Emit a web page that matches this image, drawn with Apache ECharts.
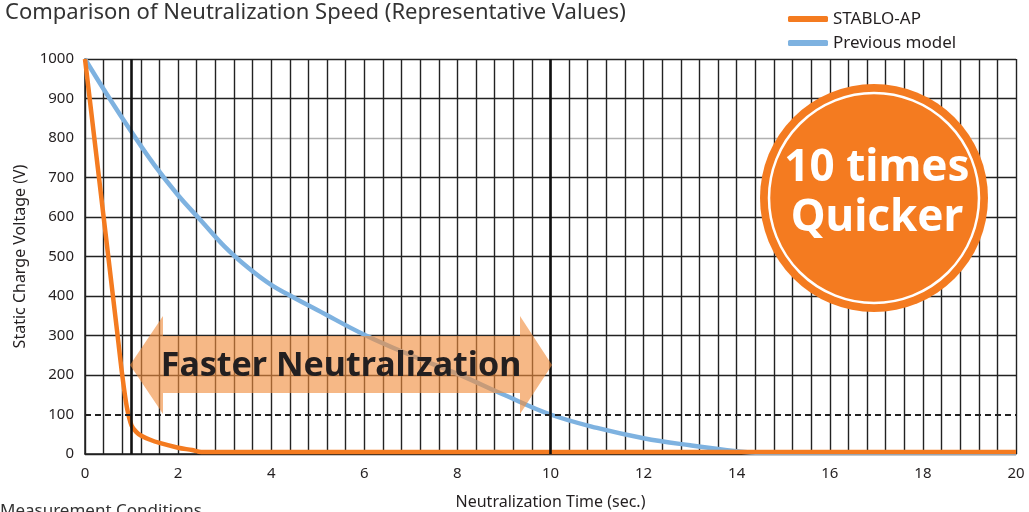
<!DOCTYPE html>
<html>
<head>
    <meta charset="utf-8">
    <title>Neutralization Speed</title>
    <script src="https://cdn.jsdelivr.net/npm/echarts@6/dist/echarts.min.js"></script>
    <style>
        html, body { margin: 0; padding: 0; background: #fff; }
        #chart { width: 1029px; height: 512px; }
    </style>
</head>
<body>
<div id="chart"></div>
<script type="text/javascript">
    // STABLO-AP (orange)
    var stabloTime = [0, 0.7, 0.8, 0.9, 1.0, 1.1, 1.2, 1.4, 1.6, 2.0, 2.3, 2.5, 3, 20];
    var stabloVolt = [1000, 300, 200, 118, 72, 56, 47, 36, 28, 16, 10, 5, 5, 5];
    // Previous model (blue)
    var prevTime = [0, 0.5, 1, 1.5, 2, 2.5, 3, 3.5, 4, 4.5, 5, 6, 7, 8, 9, 10, 11, 12, 13, 14, 14.5, 20];
    var prevVolt = [1000, 905, 815, 730, 655, 590, 525, 472, 428, 395, 364, 302, 250, 203, 150, 100, 66, 40, 22, 7, 3, 3];
    // reference lines
    var thickLinesX = [1, 10];
    var dashedLineY = 100;

    var seriesNames = ['STABLO-AP', 'Previous model'];
    var gridColor = '#222';
    var textColor = '#231f20';
    var fontName = 'Noto Sans';

    function pairs(xs, ys) {
        return xs.map(function (x, i) { return [x, ys[i]]; });
    }

    // y split line colours (0,100,...,1000): 100 is drawn dashed, 800 appears light grey
    var ySplitColors = [];
    for (var i = 0; i <= 10; i++) {
        if (i === 1) ySplitColors.push('rgba(0,0,0,0)');
        else if (i === 8) ySplitColors.push('#b0b0b0');
        else ySplitColors.push(gridColor);
    }

    var dom = document.getElementById('chart');
    var myChart = echarts.init(dom, null, { renderer: 'canvas' });

    var option = {
        backgroundColor: '#fff',
        animation: false,
        title: {
            text: 'Comparison of Neutralization Speed (Representative Values)',
            left: 0,
            top: -3,
            textStyle: { fontFamily: fontName, fontSize: 22, fontWeight: 'normal', color: '#333' }
        },
        legend: {
            data: seriesNames,
            orient: 'vertical',
            left: 783,
            top: 4,
            itemGap: 4,
            itemWidth: 40,
            itemHeight: 6,
            icon: 'roundRect',
            textStyle: { fontFamily: fontName, fontSize: 17, color: textColor, lineHeight: 20 }
        },
        grid: { left: 85, right: 13, top: 59, bottom: 58, outerBoundsMode: 'none' },
        xAxis: {
            type: 'value',
            min: 0,
            max: 20,
            interval: 2,
            name: 'Neutralization Time (sec.)',
            nameLocation: 'middle',
            nameGap: 40,
            nameTextStyle: { fontFamily: fontName, fontSize: 16, color: textColor },
            axisLine: { show: true, lineStyle: { color: gridColor, width: 1.5 } },
            axisTick: { show: false },
            minorTick: { show: false, splitNumber: 5 },
            axisLabel: { fontFamily: fontName, fontSize: 15, color: textColor, margin: 12 },
            splitLine: { show: true, lineStyle: { color: gridColor, width: 1.4 } },
            minorSplitLine: { show: true, lineStyle: { color: gridColor, width: 1.4 } }
        },
        yAxis: {
            type: 'value',
            min: 0,
            max: 1000,
            interval: 100,
            name: 'Static Charge Voltage (V)',
            nameLocation: 'middle',
            nameGap: 57,
            nameTextStyle: { fontFamily: fontName, fontSize: 16, color: textColor },
            axisLine: { show: true, lineStyle: { color: gridColor, width: 1.5 } },
            axisTick: { show: false },
            axisLabel: {
                fontFamily: fontName, fontSize: 15, color: textColor, margin: 11,
                formatter: function (v) { return String(v); }
            },
            splitLine: { show: true, lineStyle: { color: ySplitColors, width: 1.4 } }
        },
        series: [
            {
                name: 'ref',
                type: 'line',
                data: [],
                z: 1,
                silent: true,
                markLine: {
                    silent: true,
                    symbol: 'none',
                    label: { show: false },
                    data: thickLinesX.map(function (v) {
                        return { xAxis: v, lineStyle: { color: '#111', width: 2.6, type: 'solid' } };
                    }).concat([
                        { yAxis: dashedLineY, lineStyle: { color: '#222', width: 2, type: [6, 4] } }
                    ])
                }
            },
            {
                name: seriesNames[1],
                type: 'line',
                data: pairs(prevTime, prevVolt),
                smooth: 0.4,
                showSymbol: false,
                z: 3,
                color: '#7eb2e0',
                lineStyle: { width: 4.5, color: '#7eb2e0' }
            },
            {
                name: seriesNames[0],
                type: 'line',
                data: pairs(stabloTime, stabloVolt),
                smooth: 0.3,
                showSymbol: false,
                z: 4,
                color: '#f47b20',
                lineStyle: { width: 4.5, color: '#f47b20' }
            }
        ],
        graphic: [
            {
                type: 'polygon',
                z: 100,
                silent: true,
                shape: {
                    points: [[130, 365], [163, 316], [163, 336], [520, 336], [520, 316],
                             [552, 365], [520, 414], [520, 393], [163, 393], [163, 414]]
                },
                style: { fill: 'rgba(241,140,60,0.62)' }
            },
            {
                type: 'text',
                z: 101,
                silent: true,
                x: 341,
                y: 366,
                style: {
                    text: 'Faster Neutralization',
                    fontFamily: fontName,
                    fontSize: 34,
                    fontWeight: 'bold',
                    fill: '#231f20',
                    align: 'center',
                    verticalAlign: 'middle'
                }
            },
            {
                type: 'circle',
                z: 100,
                silent: true,
                shape: { cx: 874, cy: 198, r: 114 },
                style: { fill: '#f47b20' }
            },
            {
                type: 'circle',
                z: 101,
                silent: true,
                shape: { cx: 874, cy: 198, r: 105 },
                style: { fill: null, stroke: '#fff', lineWidth: 2.5 }
            },
            {
                type: 'text',
                z: 102,
                silent: true,
                x: 877,
                y: 168,
                style: {
                    text: '10 times',
                    fontFamily: fontName,
                    fontSize: 44,
                    fontWeight: 'bold',
                    fill: '#fff',
                    align: 'center',
                    verticalAlign: 'middle'
                }
            },
            {
                type: 'text',
                z: 102,
                silent: true,
                x: 877,
                y: 218,
                style: {
                    text: 'Quicker',
                    fontFamily: fontName,
                    fontSize: 44,
                    fontWeight: 'bold',
                    fill: '#fff',
                    align: 'center',
                    verticalAlign: 'middle'
                }
            },
            {
                type: 'text',
                left: 0,
                top: 503,
                silent: true,
                style: {
                    text: 'Measurement Conditions',
                    fontFamily: fontName,
                    fontSize: 17,
                    fill: '#333'
                }
            }
        ]
    };

    myChart.setOption(option);
    window.addEventListener('resize', myChart.resize);
</script>
</body>
</html>
